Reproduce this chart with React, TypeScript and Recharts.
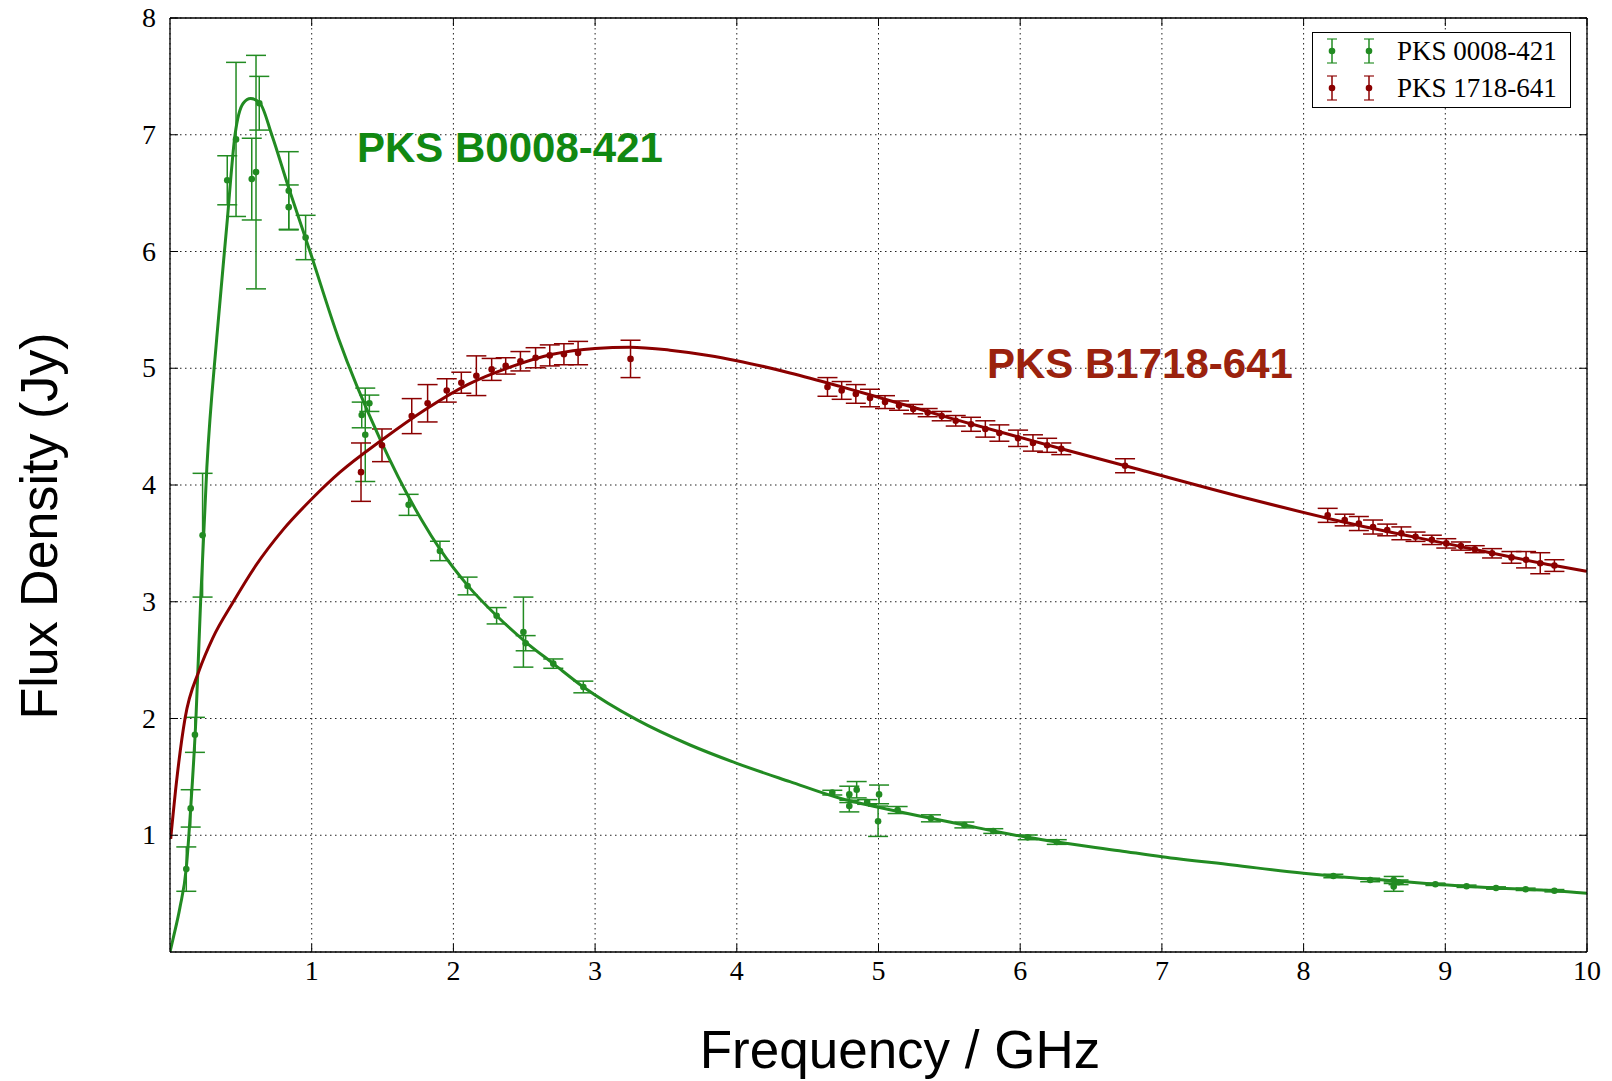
import React from 'react';
import { ComposedChart, XAxis, YAxis, CartesianGrid, Line, Scatter, ErrorBar } from 'recharts';

// ---------- data ----------
const xTicks = [1, 2, 3, 4, 5, 6, 7, 8, 9, 10];
const yTicks = [1, 2, 3, 4, 5, 6, 7, 8];

// PKS 0008-421 measurements
const greenFreq = [0.115, 0.146, 0.176, 0.23, 0.404, 0.466, 0.577, 0.607, 0.63, 0.838, 0.838, 0.957, 1.353, 1.378, 1.407, 1.684, 1.905, 2.1, 2.305, 2.494, 2.51, 2.705, 2.917, 4.674, 4.794, 4.794, 4.846, 4.92, 5.004, 4.997, 5.135, 5.37, 5.606, 5.81, 6.053, 6.258, 8.21, 8.47, 8.636, 8.636, 8.67, 8.93, 9.15, 9.358, 9.567, 9.77];
const greenFlux = [0.71, 1.23, 1.86, 3.57, 6.61, 6.96, 6.62, 6.68, 7.27, 6.52, 6.38, 6.12, 4.6, 4.43, 4.7, 3.83, 3.435, 3.135, 2.88, 2.74, 2.645, 2.47, 2.27, 1.365, 1.35, 1.25, 1.39, 1.285, 1.35, 1.12, 1.216, 1.145, 1.088, 1.036, 0.982, 0.942, 0.651, 0.617, 0.617, 0.56, 0.597, 0.58, 0.563, 0.548, 0.537, 0.525];
const greenErr = [0.19, 0.16, 0.15, 0.53, 0.21, 0.66, 0.35, 1.0, 0.23, 0.335, 0.19, 0.19, 0.11, 0.4, 0.07, 0.09, 0.083, 0.076, 0.07, 0.3, 0.065, 0.04, 0.05, 0.02, 0.07, 0.05, 0.07, 0.02, 0.08, 0.13, 0.03, 0.03, 0.025, 0.02, 0.02, 0.02, 0.015, 0.015, 0.03, 0.04, 0.02, 0.01, 0.01, 0.01, 0.01, 0.01];

// PKS 1718-641 measurements
const redFreq = [1.348, 1.496, 1.706, 1.818, 1.953, 2.056, 2.162, 2.27, 2.369, 2.473, 2.58, 2.68, 2.78, 2.88, 3.25, 4.64, 4.74, 4.84, 4.94, 5.046, 5.145, 5.245, 5.347, 5.446, 5.545, 5.653, 5.754, 5.853, 5.985, 6.09, 6.19, 6.29, 6.74, 8.17, 8.29, 8.39, 8.49, 8.59, 8.69, 8.79, 8.905, 9.007, 9.11, 9.208, 9.33, 9.467, 9.57, 9.67, 9.77];
const redFlux = [4.11, 4.34, 4.59, 4.7, 4.81, 4.876, 4.936, 4.99, 5.02, 5.06, 5.09, 5.11, 5.12, 5.13, 5.08, 4.84, 4.81, 4.78, 4.745, 4.71, 4.68, 4.65, 4.62, 4.59, 4.55, 4.52, 4.48, 4.445, 4.4, 4.36, 4.34, 4.31, 4.165, 3.74, 3.7, 3.67, 3.64, 3.615, 3.586, 3.557, 3.53, 3.5, 3.477, 3.45, 3.415, 3.38, 3.36, 3.33, 3.31];
const redErr = [0.25, 0.14, 0.15, 0.16, 0.1, 0.09, 0.17, 0.094, 0.07, 0.083, 0.086, 0.09, 0.09, 0.1, 0.16, 0.08, 0.076, 0.08, 0.075, 0.055, 0.04, 0.04, 0.035, 0.04, 0.045, 0.06, 0.07, 0.07, 0.07, 0.07, 0.06, 0.05, 0.06, 0.06, 0.05, 0.06, 0.06, 0.05, 0.055, 0.04, 0.04, 0.04, 0.035, 0.03, 0.04, 0.05, 0.07, 0.09, 0.05];

// fitted model curves
const greenFitFreq = [0.0, 0.023, 0.07, 0.115, 0.146, 0.183, 0.217, 0.26, 0.33, 0.4, 0.459, 0.517, 0.569, 0.635, 0.718, 0.835, 0.988, 1.188, 1.48, 1.776, 1.905, 2.1, 2.305, 2.51, 2.705, 2.917, 3.293, 3.67, 4.0, 4.375, 4.728, 5.0, 5.37, 5.606, 5.81, 6.053, 6.258, 6.7, 7.0, 7.5, 8.0, 8.257, 8.636, 8.93, 9.358, 9.77, 10.0];
const greenFitFlux = [0.0, 0.12, 0.38, 0.72, 1.23, 2.0, 3.03, 4.15, 5.26, 6.21, 7.0, 7.27, 7.31, 7.27, 7.0, 6.555, 6.0, 5.26, 4.4, 3.7, 3.45, 3.14, 2.88, 2.655, 2.47, 2.27, 1.99, 1.773, 1.616, 1.459, 1.317, 1.24, 1.145, 1.088, 1.036, 0.982, 0.942, 0.868, 0.816, 0.745, 0.674, 0.645, 0.61, 0.58, 0.548, 0.525, 0.503];
const redFitFreq = [0.005, 0.047, 0.106, 0.207, 0.3, 0.447, 0.6, 0.8, 1.0, 1.2, 1.5, 1.8, 2.1, 2.4, 2.7, 3.0, 3.246, 3.528, 3.8, 4.0, 4.375, 4.728, 5.046, 5.5, 6.29, 6.74, 7.62, 8.257, 9.0, 9.77, 10.0];
const redFitFlux = [0.97, 1.47, 2.0, 2.415, 2.685, 3.0, 3.3, 3.62, 3.88, 4.11, 4.39, 4.645, 4.86, 5.01, 5.12, 5.17, 5.18, 5.155, 5.11, 5.065, 4.96, 4.845, 4.735, 4.575, 4.31, 4.165, 3.88, 3.69, 3.5, 3.31, 3.26];

const GREEN = '#228B22';
const RED = '#8B0000';

const toPoints = (xs: number[], ys: number[], es?: number[]) =>
  xs.map((x, i) => (es ? { x, y: ys[i], err: es[i] } : { x, y: ys[i] }));

const greenPts = toPoints(greenFreq, greenFlux, greenErr);
const redPts = toPoints(redFreq, redFlux, redErr);
const greenFit = toPoints(greenFitFreq, greenFitFlux);
const redFit = toPoints(redFitFreq, redFitFlux);

const SERIF = '"Liberation Serif", "Times New Roman", serif';
const SANS = '"Liberation Sans", Arial, Helvetica, sans-serif';
const TL = 8;

const BottomTick = (p: any) => (
  <g>
    <line x1={p.x} x2={p.x} y1={p.y} y2={p.y - TL} stroke="#000" strokeWidth={1} />
    <text x={p.x} y={p.y + 28} textAnchor="middle" fontFamily={SERIF} fontSize={28} fill="#000">
      {p.payload.value}
    </text>
  </g>
);
const TopTick = (p: any) => (
  <line x1={p.x} x2={p.x} y1={p.y} y2={p.y + TL} stroke="#000" strokeWidth={1} />
);
const LeftTick = (p: any) => (
  <g>
    <line x1={p.x} x2={p.x + TL} y1={p.y} y2={p.y} stroke="#000" strokeWidth={1} />
    <text x={p.x - 14} y={p.y + 9} textAnchor="end" fontFamily={SERIF} fontSize={28} fill="#000">
      {p.payload.value}
    </text>
  </g>
);
const RightTick = (p: any) => (
  <line x1={p.x} x2={p.x - TL} y1={p.y} y2={p.y} stroke="#000" strokeWidth={1} />
);

const Dot = (color: string) => (p: any) => <circle cx={p.cx} cy={p.cy} r={3.3} fill={color} />;

const LegendGlyph = ({ color }: { color: string }) => (
  <svg width={14} height={30} style={{ display: 'block' }}>
    <line x1={7} x2={7} y1={3} y2={27} stroke={color} strokeWidth={1.5} />
    <line x1={2} x2={12} y1={3} y2={3} stroke={color} strokeWidth={1.5} strokeOpacity={0.75} />
    <line x1={2} x2={12} y1={27} y2={27} stroke={color} strokeWidth={1.5} strokeOpacity={0.75} />
    <circle cx={7} cy={15} r={3.3} fill={color} />
  </svg>
);

const legendItems = [
  { name: 'PKS 0008-421', color: GREEN },
  { name: 'PKS 1718-641', color: RED },
];

const axisLine = { stroke: '#000', strokeWidth: 1.3 };

export default function App() {
  return (
    <div style={{ position: 'relative', width: 1612, height: 1081, marginTop: -8, marginLeft: -8 }}>
      <style>{'html,body{overflow:hidden}'}</style>
      <ComposedChart width={1612} height={1081} margin={{ top: 17, left: 169, right: 24, bottom: 128 }}>
        <CartesianGrid stroke="#222" strokeWidth={1} strokeDasharray="1.5 3.5" />
        <XAxis
          type="number"
          dataKey="x"
          domain={[0, 10]}
          ticks={xTicks}
          interval={0}
          allowDataOverflow
          height={1}
          tickSize={0}
          tickMargin={0}
          tickLine={false}
          axisLine={axisLine}
          tick={BottomTick}
        />
        <XAxis
          xAxisId="top"
          orientation="top"
          type="number"
          dataKey="x"
          domain={[0, 10]}
          ticks={xTicks}
          interval={0}
          allowDataOverflow
          height={1}
          tickSize={0}
          tickMargin={0}
          tickLine={false}
          axisLine={axisLine}
          tick={TopTick}
        />
        <YAxis
          type="number"
          dataKey="y"
          domain={[0, 8]}
          ticks={yTicks}
          interval={0}
          allowDataOverflow
          width={1}
          tickSize={0}
          tickMargin={0}
          tickLine={false}
          axisLine={axisLine}
          tick={LeftTick}
        />
        <YAxis
          yAxisId="right"
          orientation="right"
          type="number"
          dataKey="y"
          domain={[0, 8]}
          ticks={yTicks}
          interval={0}
          allowDataOverflow
          width={1}
          tickSize={0}
          tickMargin={0}
          tickLine={false}
          axisLine={axisLine}
          tick={RightTick}
        />
        <Scatter data={greenPts} dataKey="y" fill={GREEN} shape={Dot(GREEN)} isAnimationActive={false}>
          <ErrorBar dataKey="err" direction="y" width={10} stroke={GREEN} strokeWidth={1.5} />
        </Scatter>
        <Scatter data={redPts} dataKey="y" fill={RED} shape={Dot(RED)} isAnimationActive={false}>
          <ErrorBar dataKey="err" direction="y" width={10} stroke={RED} strokeWidth={1.5} />
        </Scatter>
        <Line data={greenFit} dataKey="y" type="monotone" stroke={GREEN} strokeWidth={3} dot={false} activeDot={false} isAnimationActive={false} />
        <Line data={redFit} dataKey="y" type="monotone" stroke={RED} strokeWidth={3} dot={false} activeDot={false} isAnimationActive={false} />
      </ComposedChart>

      <svg width={1612} height={1081} style={{ position: 'absolute', left: 0, top: 0, pointerEvents: 'none' }}>
        <text x={357} y={162} fontFamily={SANS} fontWeight="bold" fontSize={42} fill="#118811">PKS B0008-421</text>
        <text x={987} y={378} fontFamily={SANS} fontWeight="bold" fontSize={42} fill="#9b220e">PKS B1718-641</text>
        <text x={900} y={1068} textAnchor="middle" fontFamily={SANS} fontSize={53} fill="#000">Frequency / GHz</text>
        <text x={57} y={526} textAnchor="middle" fontFamily={SANS} fontSize={52} fill="#000" transform="rotate(-90 57 526)">Flux Density (Jy)</text>
      </svg>

      <div
        style={{
          position: 'absolute',
          left: 1312,
          top: 32,
          width: 259,
          height: 76,
          border: '1.3px solid #000',
          background: '#fff',
          boxSizing: 'border-box',
        }}
      >
        {legendItems.map((it, i) => (
          <div key={it.name} style={{ position: 'absolute', left: 12, top: 3 + i * 37, height: 30, display: 'flex', alignItems: 'center' }}>
            <LegendGlyph color={it.color} />
            <div style={{ width: 23 }} />
            <LegendGlyph color={it.color} />
            <span style={{ marginLeft: 21, fontFamily: SERIF, fontSize: 27, color: '#000', whiteSpace: 'nowrap' }}>{it.name}</span>
          </div>
        ))}
      </div>
    </div>
  );
}
